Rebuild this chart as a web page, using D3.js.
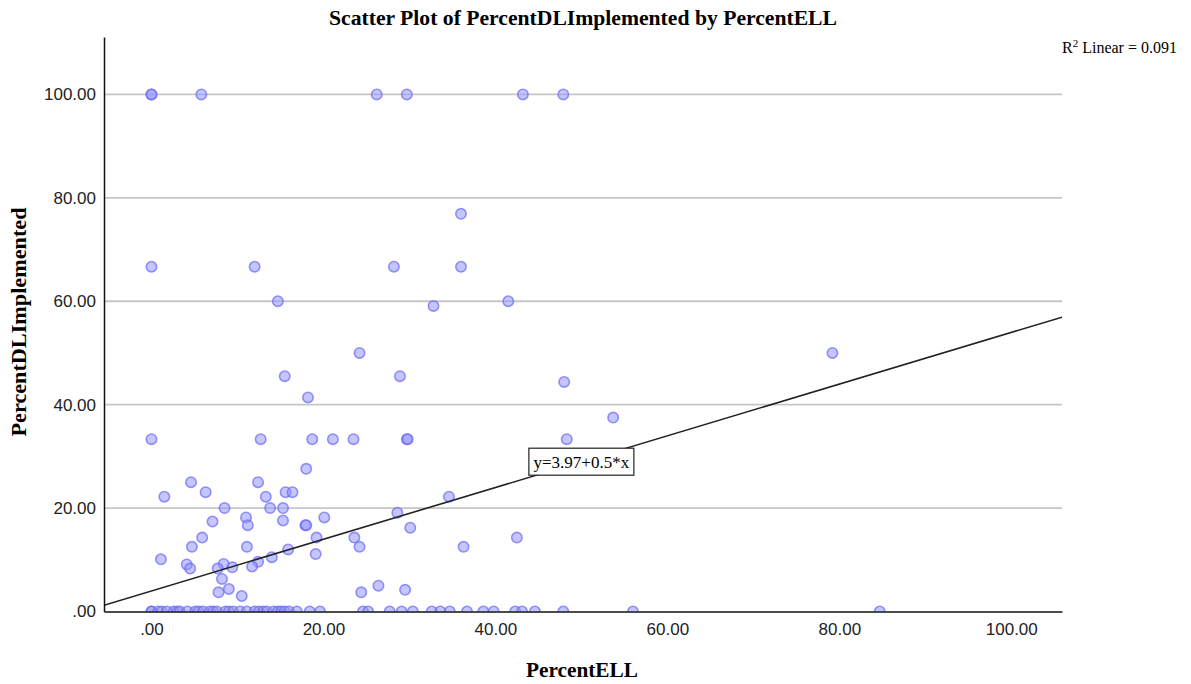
<!DOCTYPE html>
<html>
<head>
<meta charset="utf-8">
<script src="https://cdn.jsdelivr.net/npm/d3@7"></script>
<style>
  body { margin: 0; background: #fff; }
  svg { display: block; }
  .tick text { font-family: "Liberation Sans Narrow", "Liberation Sans", sans-serif; font-size: 17px; fill: #222; }
  .serif { font-family: "Liberation Serif", "DejaVu Serif", serif; fill: #000; }
</style>
</head>
<body>
<svg width="1191" height="684"></svg>
<script>
// PercentELL (x) and PercentDLImplemented (y)
const percentELL = [
  0, 0, 5.8, 26.2, 29.7, 43.2, 47.9,
  36.0,
  0, 12.0, 28.2, 36.0,
  14.7, 41.5, 32.8,
  24.2, 79.2,
  15.5, 28.9, 48.0,
  18.2, 53.7,
  0, 12.7, 18.7, 21.1, 23.5, 29.7, 29.8, 48.3,
  18.0,
  4.6, 12.4,
  6.3, 15.6, 16.4,
  1.5, 13.3, 34.6,
  8.5, 13.8, 15.3,
  28.6,
  11.0, 20.1,
  15.3, 7.1,
  11.2, 17.9, 18.0,
  30.1,
  5.9, 19.2, 23.6, 42.5,
  4.7, 11.1, 24.2, 36.3,
  15.9, 19.1, 14.0, 1.1,
  12.4, 8.4, 4.1,
  11.7, 9.4, 4.5, 7.7,
  8.2, 26.4, 9.0, 29.5,
  7.8, 24.4, 10.5,
  0, 0, 0.8, 1.2, 1.8, 2.6, 3.0, 3.3, 4.2, 5.1, 5.5, 6.0, 6.8, 7.2, 7.6, 8.6, 9.0, 9.5,
  10.3, 11.1, 12.0, 12.5, 13.0, 13.4, 14.2, 14.7, 15.1, 15.5, 16.0, 16.9, 18.4, 19.6,
  24.6, 25.2, 27.7, 29.1, 30.4, 32.6, 33.6, 34.7, 36.7, 38.6, 39.8, 42.3, 43.1, 44.6,
  47.9, 56.0, 84.7
];
const percentDL = [
  100, 100, 100, 100, 100, 100, 100,
  76.9,
  66.67, 66.67, 66.67, 66.67,
  60, 60, 59.1,
  50, 50,
  45.5, 45.5, 44.4,
  41.4, 37.5,
  33.33, 33.33, 33.33, 33.33, 33.33, 33.33, 33.33, 33.33,
  27.6,
  25, 25,
  23.08, 23.08, 23.08,
  22.2, 22.2, 22.2,
  20, 20, 20,
  19.1,
  18.2, 18.2,
  17.6, 17.4,
  16.7, 16.7, 16.7,
  16.2,
  14.3, 14.3, 14.3, 14.3,
  12.5, 12.5, 12.5, 12.5,
  12.0, 11.1, 10.5, 10.1,
  9.6, 9.2, 9.1,
  8.7, 8.55, 8.3, 8.3,
  6.3, 5.0, 4.35, 4.2,
  3.7, 3.7, 3.0,
  0, 0, 0, 0, 0, 0, 0, 0, 0, 0, 0, 0, 0, 0, 0, 0, 0, 0,
  0, 0, 0, 0, 0, 0, 0, 0, 0, 0, 0, 0, 0, 0,
  0, 0, 0, 0, 0, 0, 0, 0, 0, 0, 0, 0, 0, 0,
  0, 0, 0
];

const xTicks = [0, 20, 40, 60, 80, 100];
const yTicks = [0, 20, 40, 60, 80, 100];
const gridTicks = [20, 40, 60, 80, 100];

const fitIntercept = 3.97;
const fitSlope = 0.5;
const rSquared = 0.091;
const labelAtX = 50;

const svg = d3.select("svg");

const plotLeft = 104, plotRight = 1062, plotTop = 37, plotBottom = 611.5;

const x = d3.scaleLinear().domain([-5.52, 105.9]).range([plotLeft, plotRight]);
const y = d3.scaleLinear().domain([0, 111.1]).range([plotBottom, plotTop]);

const fmt = v => v === 0 ? ".00" : d3.format(".2f")(v);

svg.append("defs").append("clipPath")
  .attr("id", "plot-clip")
  .append("rect")
  .attr("x", plotLeft)
  .attr("y", plotTop)
  .attr("width", plotRight - plotLeft)
  .attr("height", plotBottom - plotTop);

// horizontal gridlines
svg.append("g")
  .selectAll("line")
  .data(gridTicks)
  .enter()
  .append("line")
  .attr("x1", plotLeft)
  .attr("x2", plotRight)
  .attr("y1", d => y(d))
  .attr("y2", d => y(d))
  .attr("stroke", "#c6c6c6")
  .attr("stroke-width", 1.8);

const plot = svg.append("g").attr("clip-path", "url(#plot-clip)");

const points = percentELL.map((v, i) => ({ ell: v, dl: percentDL[i] }));

plot.selectAll(".dot")
  .data(points)
  .enter()
  .append("circle")
  .attr("class", "dot")
  .attr("cx", d => x(d.ell))
  .attr("cy", d => y(d.dl))
  .attr("r", 5.2)
  .attr("fill", "rgb(150,150,255)")
  .attr("fill-opacity", 0.55)
  .attr("stroke", "rgb(105,105,245)")
  .attr("stroke-opacity", 0.7)
  .attr("stroke-width", 1.6);

// fit line
const xd = x.domain();
plot.append("line")
  .attr("x1", x(xd[0]))
  .attr("x2", x(xd[1]))
  .attr("y1", y(fitIntercept + fitSlope * xd[0]))
  .attr("y2", y(fitIntercept + fitSlope * xd[1]))
  .attr("stroke", "#222")
  .attr("stroke-width", 1.6);

// axes
const yAxis = svg.append("g")
  .attr("transform", `translate(${plotLeft},0)`)
  .call(d3.axisLeft(y).tickValues(yTicks).tickFormat(fmt).tickSize(0).tickPadding(8));
const xAxis = svg.append("g")
  .attr("transform", `translate(0,${plotBottom})`)
  .call(d3.axisBottom(x).tickValues(xTicks).tickFormat(fmt).tickSize(0).tickPadding(11));
[yAxis, xAxis].forEach(a => {
  a.attr("font-family", null).attr("font-size", null);
  a.select(".domain").attr("stroke", "#111").attr("stroke-width", 1.5);
});

// equation label
const lx = x(labelAtX), ly = y(fitIntercept + fitSlope * labelAtX);
svg.append("rect")
  .attr("x", lx - 52.5)
  .attr("y", ly - 13.5)
  .attr("width", 105)
  .attr("height", 27)
  .attr("fill", "#fff")
  .attr("stroke", "#222")
  .attr("stroke-width", 1.2);
svg.append("text")
  .attr("class", "serif")
  .attr("x", lx)
  .attr("y", ly + 6)
  .attr("text-anchor", "middle")
  .attr("font-size", 17)
  .text(`y=${fitIntercept}+${fitSlope}*x`);

// titles
svg.append("text")
  .attr("class", "serif")
  .attr("x", 583)
  .attr("y", 25)
  .attr("text-anchor", "middle")
  .attr("font-size", 21)
  .attr("font-weight", "bold")
  .attr("textLength", 508)
  .attr("lengthAdjust", "spacingAndGlyphs")
  .text("Scatter Plot of PercentDLImplemented by PercentELL");

svg.append("text")
  .attr("class", "serif")
  .attr("x", 582)
  .attr("y", 677)
  .attr("text-anchor", "middle")
  .attr("font-size", 21)
  .attr("font-weight", "bold")
  .attr("textLength", 112)
  .attr("lengthAdjust", "spacingAndGlyphs")
  .text("PercentELL");

svg.append("text")
  .attr("class", "serif")
  .attr("transform", "translate(26,322) rotate(-90)")
  .attr("text-anchor", "middle")
  .attr("font-size", 21)
  .attr("font-weight", "bold")
  .attr("textLength", 229)
  .attr("lengthAdjust", "spacingAndGlyphs")
  .text("PercentDLImplemented");

const r2 = svg.append("text")
  .attr("class", "serif")
  .attr("x", 1062)
  .attr("y", 53)
  .attr("font-size", 16);
r2.append("tspan").text("R");
r2.append("tspan").attr("font-size", 11).attr("dy", -6).text("2");
r2.append("tspan").attr("dy", 6).text(` Linear = ${rSquared.toFixed(3)}`);
</script>
</body>
</html>
